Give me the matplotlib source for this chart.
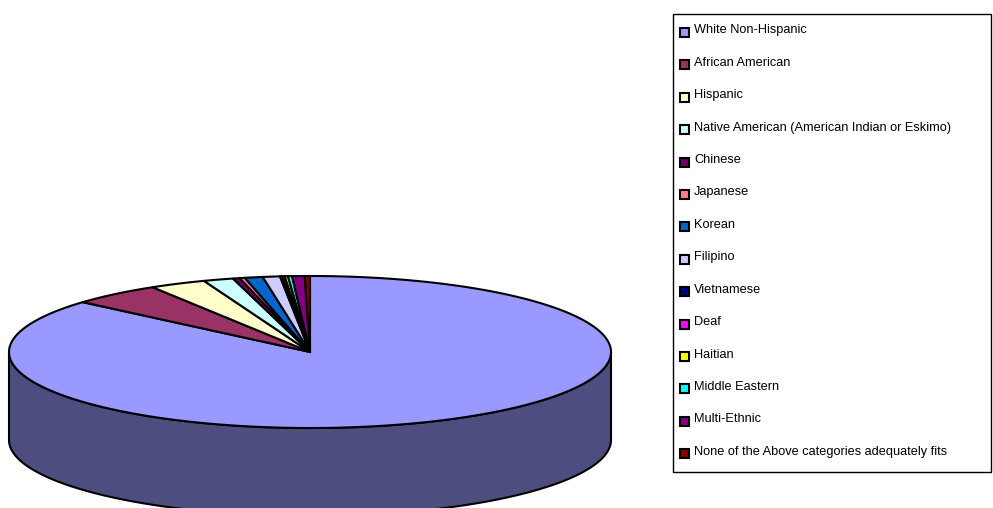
import numpy as np
import matplotlib
matplotlib.use("Agg")
import matplotlib.pyplot as plt
from matplotlib.patches import Polygon, Rectangle
import matplotlib.colors as mcolors

categories = [
    "White Non-Hispanic",
    "African American",
    "Hispanic",
    "Native American (American Indian or Eskimo)",
    "Chinese",
    "Japanese",
    "Korean",
    "Filipino",
    "Vietnamese",
    "Deaf",
    "Haitian",
    "Middle Eastern",
    "Multi-Ethnic",
    "None of the Above categories adequately fits",
]
values = [86.4, 4.86, 3.03, 1.61, 0.36, 0.28, 0.97, 0.92, 0.11, 0.14, 0.17, 0.22, 0.67, 0.28]
colors = [
    "#9999FF", "#993366", "#FFFFCC", "#CCFFFF", "#660066", "#FF8080", "#0066CC",
    "#CCCCFF", "#000080", "#FF00FF", "#FFFF00", "#00FFFF", "#800080", "#800000",
]

W, H = 993, 508
fig = plt.figure(figsize=(W / 100, H / 100), dpi=100)
ax = fig.add_axes([0, 0, 1, 1])
ax.set_xlim(0, W)
ax.set_ylim(H, 0)
ax.axis("off")

# pie geometry (pixel units)
cx, cy, rx, ry, depth = 310, 352, 301, 76, 88
vals = np.array(values, dtype=float)
bounds = np.concatenate([[0], np.cumsum(vals / vals.sum())]) * 360.0  # clockwise from 12 o'clock


def rim(th):
    t = np.radians(th)
    return cx + rx * np.sin(t), cy - ry * np.cos(t)


def darken(c, f=0.5):
    r, g, b = mcolors.to_rgb(c)
    return (r * f, g * f, b * f)


lw = 1.5
# front walls
for i, (a, b) in enumerate(zip(bounds[:-1], bounds[1:])):
    lo, hi = max(a, 90.0), min(b, 270.0)
    if hi <= lo:
        continue
    th = np.linspace(lo, hi, max(2, int((hi - lo) * 2)))
    xs, ys = rim(th)
    pts = list(zip(xs, ys)) + list(zip(xs[::-1], ys[::-1] + depth))
    ax.add_patch(Polygon(pts, closed=True, facecolor=darken(colors[i]),
                         edgecolor="black", linewidth=lw, zorder=1))

# top faces
for i, (a, b) in enumerate(zip(bounds[:-1], bounds[1:])):
    th = np.linspace(a, b, max(2, int((b - a) * 2)))
    xs, ys = rim(th)
    pts = [(cx, cy)] + list(zip(xs, ys))
    ax.add_patch(Polygon(pts, closed=True, facecolor=colors[i],
                         edgecolor="black", linewidth=lw, zorder=2))

# legend
ax.add_patch(Rectangle((673, 14), 318, 458, facecolor="white", edgecolor="black",
                       linewidth=1.0, zorder=3))
y0, dy = 30.5, 32.4
for i, (lab, col) in enumerate(zip(categories, colors)):
    y = y0 + i * dy
    ax.add_patch(Rectangle((680, y - 2.5), 9, 9, facecolor=col, edgecolor="black",
                           linewidth=1.5, zorder=4))
    ax.text(694, y, lab, fontsize=9.2, family=["Liberation Sans", "DejaVu Sans"],
            va="center", ha="left", zorder=4)

fig.savefig("out.png", dpi=100)
